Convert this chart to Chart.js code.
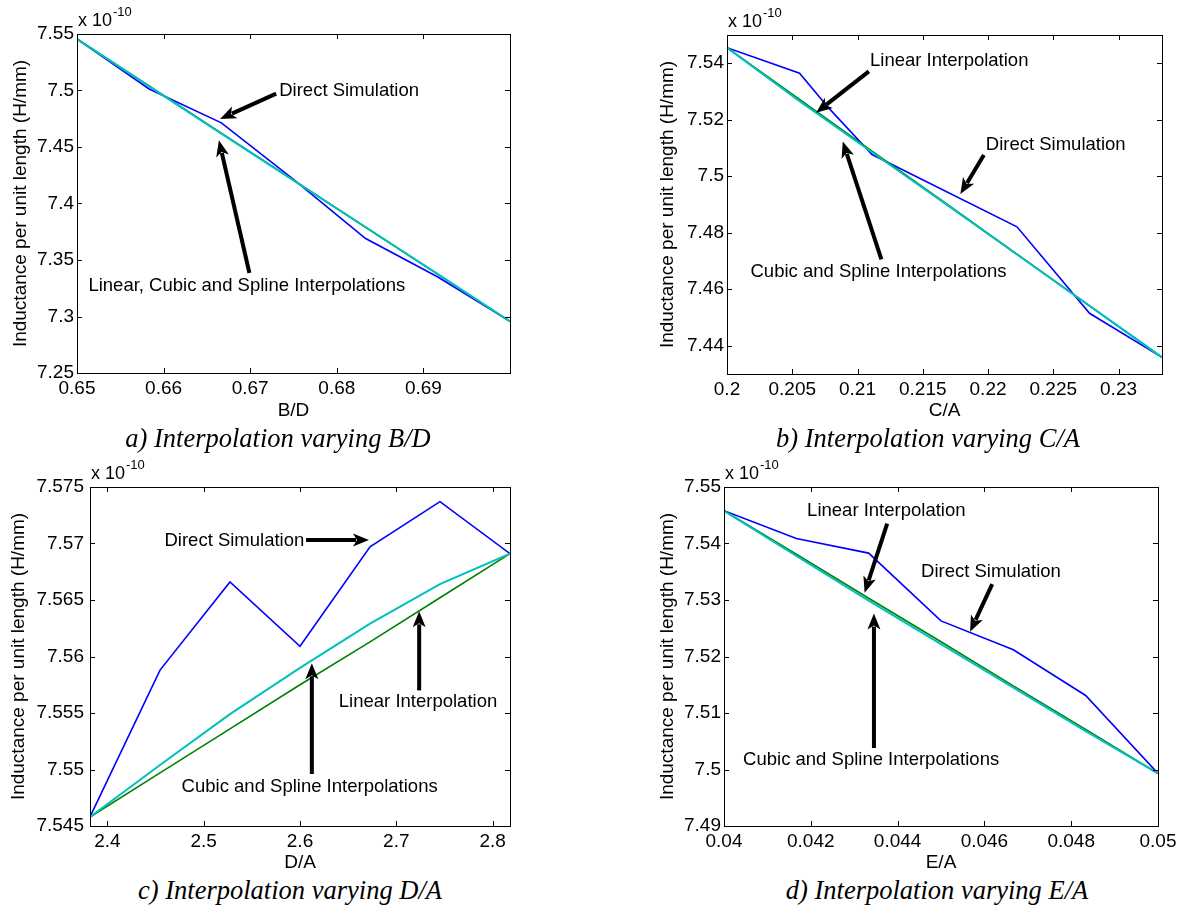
<!DOCTYPE html>
<html>
<head>
<meta charset="utf-8">
<title>Interpolation of inductance per unit length</title>
<script src="https://cdn.jsdelivr.net/npm/chart.js@4.4.1/dist/chart.umd.min.js"></script>
<style>
  html, body { margin: 0; padding: 0; background: #fff; overflow: hidden; }
  body { width: 1181px; height: 906px; position: relative; }
  canvas { position: absolute; }
  .caption {
    position: absolute; width: 420px; text-align: center; white-space: nowrap;
    font: italic 26.5px "Liberation Serif", "Times New Roman", serif; line-height: 26px; color: #000;
  }
</style>
</head>
<body>
<canvas id="chartBD"></canvas>
<canvas id="chartCA"></canvas>
<canvas id="chartDA"></canvas>
<canvas id="chartEA"></canvas>
<div class="caption" style="left:68px;top:425px">a) Interpolation varying B/D</div>
<div class="caption" style="left:718px;top:425px">b) Interpolation varying C/A</div>
<div class="caption" style="left:80px;top:877px">c) Interpolation varying D/A</div>
<div class="caption" style="left:727px;top:877px">d) Interpolation varying E/A</div>
<script>
// values are in units of 1e-10 H/mm

// a) varying B/D
const bdX = [0.65, 0.65833, 0.66667, 0.675, 0.68333, 0.69167, 0.7];
const bdDirect = [7.5456, 7.5013, 7.4714, 7.4213, 7.3690, 7.3350, 7.2957];
const bdLinear = [7.5456, 7.5040, 7.4623, 7.4207, 7.3790, 7.3373, 7.2957];
const bdSpline = [7.5456, 7.5037, 7.4619, 7.4204, 7.3790, 7.3375, 7.2957];
const bdXTicks = [0.65, 0.66, 0.67, 0.68, 0.69];
const bdYTicks = [7.25, 7.3, 7.35, 7.4, 7.45, 7.5, 7.55];

// b) varying C/A (direct simulation has its own x points)
const caX = [0.2, 0.20556, 0.21111, 0.21667, 0.22222, 0.22778, 0.23333];
const caDirectX = [0.2, 0.20556, 0.2078, 0.21111, 0.22222, 0.22778, 0.23333];
const caDirect = [7.5455, 7.5365, 7.5241, 7.5077, 7.4821, 7.4515, 7.4359];
const caLinear = [7.5455, 7.5272, 7.5089, 7.4907, 7.4724, 7.4541, 7.4359];
const caSpline = [7.5455, 7.5266, 7.5085, 7.4905, 7.4723, 7.4541, 7.4359];
const caXTicks = [0.2, 0.205, 0.21, 0.215, 0.22, 0.225, 0.23];
const caYTicks = [7.44, 7.46, 7.48, 7.5, 7.52, 7.54];

// c) varying D/A
const daX = [2.382, 2.4547, 2.5273, 2.6, 2.6727, 2.7453, 2.818];
const daDirect = [7.5458, 7.5588, 7.5666, 7.5609, 7.5697, 7.5737, 7.5691];
const daLinear = [7.5458, 7.5497, 7.5536, 7.5575, 7.5613, 7.5652, 7.5691];
const daSpline = [7.5458, 7.5504, 7.5549, 7.5590, 7.5629, 7.5664, 7.5691];
const daXTicks = [2.4, 2.5, 2.6, 2.7, 2.8];
const daYTicks = [7.545, 7.55, 7.555, 7.56, 7.565, 7.57, 7.575];

// d) varying E/A
const eaX = [0.04, 0.041667, 0.043333, 0.045, 0.046667, 0.048333, 0.05];
const eaDirect = [7.5458, 7.5409, 7.5383, 7.5263, 7.5212, 7.5131, 7.4993];
const eaLinear = [7.5458, 7.5381, 7.5303, 7.5226, 7.5148, 7.5071, 7.4993];
const eaSpline = [7.5458, 7.5378, 7.5299, 7.5222, 7.5145, 7.5068, 7.4993];
const eaXTicks = [0.04, 0.042, 0.044, 0.046, 0.048, 0.05];
const eaYTicks = [7.49, 7.5, 7.51, 7.52, 7.53, 7.54, 7.55];

const FONT = '"Liberation Sans", Arial, Helvetica, sans-serif';
const Y_TITLE = 'Inductance per unit length (H/mm)';

function pts(xs, ys) {
    return xs.map((x, i) => ({ x: x, y: ys[i] }));
}

// canvas box [left, top, width, height], plot box [left, top, right, bottom] in page px,
// titleX = centre of the rotated y title, labelGap = space between tick labels and the box
const panels = [
    {
        id: 'chartBD', box: [0, 0, 590, 420], plot: [77, 34, 510, 373], titleX: 21, labelGap: 3,
        xTitle: 'B/D', xMin: 0.65, xMax: 0.7, yMin: 7.25, yMax: 7.55,
        xTicks: bdXTicks, yTicks: bdYTicks,
        direct: pts(bdX, bdDirect), linear: pts(bdX, bdLinear), spline: pts(bdX, bdSpline),
        notes: [
            ['Direct Simulation', 0.67335, 7.4993],
            ['Linear, Cubic and Spline Interpolations', 0.65132, 7.3273]
        ],
        arrows: [
            [0.6730, 7.4972, 0.66652, 7.4748],
            [0.66991, 7.3385, 0.66639, 7.4559]
        ]
    },
    {
        id: 'chartCA', box: [590, 0, 600, 420], plot: [727, 35, 1162, 374], titleX: 667.6, labelGap: 3,
        xTitle: 'C/A', xMin: 0.2, xMax: 0.23333, yMin: 7.43, yMax: 7.55,
        xTicks: caXTicks, yTicks: caYTicks,
        direct: pts(caDirectX, caDirect), linear: pts(caX, caLinear), spline: pts(caX, caSpline),
        notes: [
            ['Linear Interpolation', 0.21096, 7.5408],
            ['Direct Simulation', 0.21983, 7.5111],
            ['Cubic and Spline Interpolations', 0.2018, 7.4663]
        ],
        arrows: [
            [0.21087, 7.5371, 0.20683, 7.5225],
            [0.21968, 7.5075, 0.21788, 7.4937],
            [0.21183, 7.4706, 0.20887, 7.5123]
        ]
    },
    {
        id: 'chartDA', box: [0, 440, 590, 432], plot: [90, 487, 510, 826], titleX: 19, labelGap: 6,
        xTitle: 'D/A', xMin: 2.382, xMax: 2.818, yMin: 7.545, yMax: 7.575,
        xTicks: daXTicks, yTicks: daYTicks,
        direct: pts(daX, daDirect), linear: pts(daX, daLinear), spline: pts(daX, daSpline),
        notes: [
            ['Direct Simulation', 2.4593, 7.5702],
            ['Linear Interpolation', 2.6403, 7.5560],
            ['Cubic and Spline Interpolations', 2.4771, 7.5485]
        ],
        arrows: [
            [2.6063, 7.5703, 2.6716, 7.5703],
            [2.7237, 7.5570, 2.7237, 7.5640],
            [2.6123, 7.5496, 2.6123, 7.5594]
        ]
    },
    {
        id: 'chartEA', box: [590, 440, 600, 432], plot: [724, 487, 1158, 826], titleX: 667.6, labelGap: 3,
        xTitle: 'E/A', xMin: 0.04, xMax: 0.05, yMin: 7.49, yMax: 7.55,
        xTicks: eaXTicks, yTicks: eaYTicks,
        direct: pts(eaX, eaDirect), linear: pts(eaX, eaLinear), spline: pts(eaX, eaSpline),
        notes: [
            ['Linear Interpolation', 0.041915, 7.5458],
            ['Direct Simulation', 0.04454, 7.5349],
            ['Cubic and Spline Interpolations', 0.04044, 7.5017]
        ],
        arrows: [
            [0.04376, 7.5435, 0.04324, 7.5313],
            [0.04618, 7.5328, 0.04567, 7.5244],
            [0.043455, 7.5038, 0.043455, 7.5276]
        ]
    }
];

function drawArrow(ctx, x1, y1, x2, y2) {
    const ang = Math.atan2(y2 - y1, x2 - x1);
    const headLen = 16, headW = 13;
    const bx = x2 - headLen * Math.cos(ang);
    const by = y2 - headLen * Math.sin(ang);
    ctx.strokeStyle = '#000';
    ctx.fillStyle = '#000';
    ctx.lineWidth = 4;
    ctx.beginPath();
    ctx.moveTo(x1, y1);
    ctx.lineTo(bx + 3 * Math.cos(ang), by + 3 * Math.sin(ang));
    ctx.stroke();
    ctx.beginPath();
    ctx.moveTo(x2, y2);
    ctx.lineTo(bx + headW / 2 * Math.sin(ang), by - headW / 2 * Math.cos(ang));
    ctx.lineTo(bx + 4 * Math.cos(ang), by + 4 * Math.sin(ang));
    ctx.lineTo(bx - headW / 2 * Math.sin(ang), by + headW / 2 * Math.cos(ang));
    ctx.closePath();
    ctx.fill();
}

// MATLAB style box, inward ticks, exponent label and the text arrows
const matlabAxes = {
    id: 'matlabAxes',
    afterDraw(chart, args, opts) {
        const ctx = chart.ctx;
        const a = chart.chartArea;
        const xs = chart.scales.x, ys = chart.scales.y;
        const tick = 5;
        ctx.save();
        ctx.strokeStyle = '#000';
        ctx.lineWidth = 1;
        ctx.strokeRect(Math.round(a.left) + 0.5, Math.round(a.top) + 0.5,
            Math.round(a.right - a.left), Math.round(a.bottom - a.top));
        ctx.beginPath();
        xs.ticks.forEach(t => {
            const px = Math.round(xs.getPixelForValue(t.value)) + 0.5;
            ctx.moveTo(px, a.bottom); ctx.lineTo(px, a.bottom - tick);
            ctx.moveTo(px, a.top); ctx.lineTo(px, a.top + tick);
        });
        ys.ticks.forEach(t => {
            const py = Math.round(ys.getPixelForValue(t.value)) + 0.5;
            ctx.moveTo(a.left, py); ctx.lineTo(a.left + tick, py);
            ctx.moveTo(a.right, py); ctx.lineTo(a.right - tick, py);
        });
        ctx.stroke();

        // exponent
        ctx.fillStyle = '#000';
        ctx.textBaseline = 'middle';
        ctx.textAlign = 'left';
        ctx.font = '18px ' + FONT;
        const base = 'x 10';
        ctx.fillText(base, a.left + 1, a.top - 12.5);
        const w = ctx.measureText(base).width;
        ctx.font = '13px ' + FONT;
        ctx.fillText('-10', a.left + 1 + w + 1, a.top - 22);

        // annotations
        const p = opts.panel;
        ctx.font = '18.5px ' + FONT;
        p.notes.forEach(n => {
            ctx.fillText(n[0], xs.getPixelForValue(n[1]), ys.getPixelForValue(n[2]));
        });
        p.arrows.forEach(ar => {
            drawArrow(ctx, xs.getPixelForValue(ar[0]), ys.getPixelForValue(ar[1]),
                xs.getPixelForValue(ar[2]), ys.getPixelForValue(ar[3]));
        });
        ctx.restore();
    }
};

Chart.defaults.font.family = FONT;
Chart.defaults.color = '#000';

panels.forEach(p => {
    const canvas = document.getElementById(p.id);
    const [bl, bt, bw, bh] = p.box;
    const [pl, pt, pr, pb] = p.plot;
    canvas.width = bw;
    canvas.height = bh;
    canvas.style.left = bl + 'px';
    canvas.style.top = bt + 'px';
    const padLeft = p.titleX - 9.5 - bl;
    const yWidth = pl - bl - padLeft;
    const xHeight = bt + bh - pb;

    new Chart(canvas.getContext('2d'), {
        type: 'line',
        data: {
            datasets: [
                { label: 'Cubic and Spline Interpolations', data: p.spline, borderColor: '#00bfbf', borderWidth: 2 },
                { label: 'Linear Interpolation', data: p.linear, borderColor: '#008000', borderWidth: 1.6 },
                { label: 'Direct Simulation', data: p.direct, borderColor: '#0000ff', borderWidth: 1.6 }
            ]
        },
        options: {
            responsive: false,
            animation: false,
            devicePixelRatio: 1,
            elements: { point: { radius: 0 }, line: { tension: 0, fill: false } },
            layout: { padding: { left: padLeft, top: pt - bt, right: bl + bw - pr, bottom: 0 } },
            plugins: {
                legend: { display: false },
                tooltip: { enabled: false },
                matlabAxes: { panel: p }
            },
            scales: {
                x: {
                    type: 'linear',
                    min: p.xMin, max: p.xMax,
                    grid: { display: false, drawTicks: false },
                    border: { display: false },
                    afterBuildTicks: s => { s.ticks = p.xTicks.map(v => ({ value: v })); },
                    afterFit: s => { s.height = xHeight; },
                    ticks: {
                        autoSkip: false, maxRotation: 0, padding: 4,
                        font: { size: 19 },
                        callback: v => String(v)
                    },
                    title: { display: true, text: p.xTitle, font: { size: 19, lineHeight: 1 }, padding: 0 }
                },
                y: {
                    type: 'linear',
                    min: p.yMin, max: p.yMax,
                    grid: { display: false, drawTicks: false },
                    border: { display: false },
                    afterBuildTicks: s => { s.ticks = p.yTicks.map(v => ({ value: v })); },
                    afterFit: s => { s.width = yWidth; },
                    ticks: {
                        autoSkip: false, padding: p.labelGap,
                        font: { size: 19 },
                        callback: v => String(v)
                    },
                    title: { display: true, text: Y_TITLE, font: { size: 19, lineHeight: 1 }, padding: 0 }
                }
            }
        },
        plugins: [matlabAxes]
    });
});
</script>
</body>
</html>
